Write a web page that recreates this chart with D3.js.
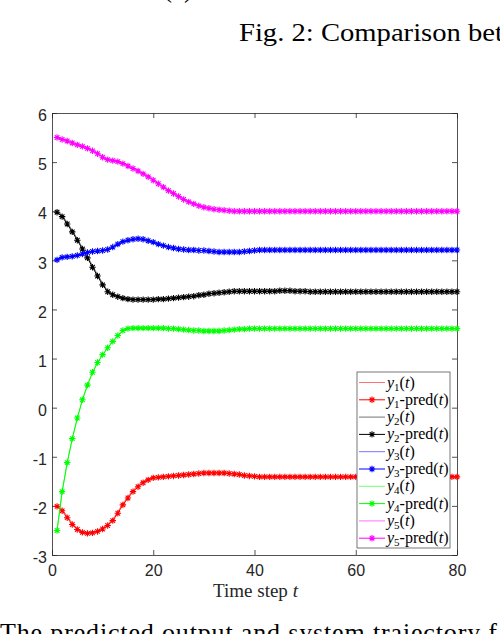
<!DOCTYPE html>
<html>
<head>
<meta charset="utf-8">
<script src="https://cdn.jsdelivr.net/npm/d3@7"></script>
<style>
  body { margin: 0; background: #fff; }
</style>
</head>
<body>
<div id="chart"></div>
<script>

// time steps 1..80
var steps = d3.range(1, 81);

// y1 (red)
var y1 = [-2.00,-2.07,-2.21,-2.35,-2.46,-2.52,-2.54,-2.53,-2.50,-2.45,
  -2.38,-2.27,-2.12,-1.95,-1.81,-1.68,-1.58,-1.50,-1.45,-1.42,
  -1.41,-1.40,-1.39,-1.38,-1.37,-1.36,-1.35,-1.34,-1.33,-1.32,
  -1.32,-1.32,-1.32,-1.32,-1.33,-1.34,-1.35,-1.37,-1.38,-1.39,
  -1.40,-1.40,-1.41,-1.41,-1.41,-1.41,-1.41,-1.41,-1.41,-1.41,
  -1.41,-1.41,-1.41,-1.41,-1.41,-1.41,-1.41,-1.41,-1.41,-1.41,
  -1.41,-1.41,-1.41,-1.41,-1.41,-1.41,-1.41,-1.41,-1.41,-1.41,
  -1.41,-1.41,-1.41,-1.41,-1.41,-1.41,-1.41,-1.41,-1.41,-1.41];
var y1pred = [-2.01,-2.10,-2.24,-2.38,-2.48,-2.54,-2.56,-2.55,-2.52,-2.47,
  -2.40,-2.30,-2.15,-1.98,-1.84,-1.71,-1.61,-1.53,-1.47,-1.43,
  -1.42,-1.41,-1.40,-1.39,-1.38,-1.37,-1.36,-1.35,-1.34,-1.33,
  -1.33,-1.33,-1.33,-1.33,-1.34,-1.35,-1.36,-1.38,-1.39,-1.40,
  -1.41,-1.41,-1.41,-1.41,-1.41,-1.41,-1.41,-1.41,-1.41,-1.41,
  -1.41,-1.41,-1.41,-1.41,-1.41,-1.41,-1.41,-1.41,-1.41,-1.41,
  -1.41,-1.41,-1.41,-1.41,-1.41,-1.41,-1.41,-1.41,-1.41,-1.41,
  -1.41,-1.41,-1.41,-1.41,-1.41,-1.41,-1.41,-1.41,-1.41,-1.41];

// y2 (black)
var y2 = [4.00,3.92,3.77,3.61,3.44,3.26,3.08,2.89,2.71,2.53,
  2.38,2.31,2.27,2.24,2.22,2.21,2.21,2.21,2.21,2.21,
  2.22,2.22,2.23,2.24,2.25,2.26,2.27,2.28,2.29,2.30,
  2.32,2.33,2.34,2.35,2.36,2.36,2.37,2.37,2.37,2.37,
  2.37,2.37,2.38,2.38,2.39,2.39,2.38,2.38,2.37,2.37,
  2.36,2.36,2.36,2.36,2.36,2.36,2.35,2.35,2.35,2.36,
  2.36,2.36,2.36,2.36,2.36,2.36,2.36,2.36,2.36,2.36,
  2.36,2.36,2.36,2.36,2.36,2.36,2.36,2.36,2.36,2.36];
var y2pred = [3.98,3.89,3.74,3.58,3.41,3.23,3.05,2.86,2.68,2.50,
  2.36,2.30,2.26,2.23,2.21,2.20,2.20,2.20,2.20,2.20,
  2.21,2.21,2.22,2.23,2.24,2.25,2.26,2.27,2.29,2.30,
  2.32,2.33,2.34,2.35,2.36,2.37,2.37,2.37,2.37,2.37,
  2.37,2.37,2.37,2.37,2.38,2.38,2.38,2.37,2.37,2.37,
  2.36,2.36,2.36,2.36,2.36,2.36,2.36,2.36,2.36,2.36,
  2.36,2.36,2.36,2.36,2.36,2.36,2.36,2.36,2.36,2.36,
  2.36,2.36,2.36,2.36,2.36,2.36,2.36,2.36,2.36,2.36];

// y3 (blue)
var y3 = [3.00,3.05,3.07,3.08,3.10,3.12,3.15,3.17,3.19,3.20,
  3.21,3.25,3.31,3.36,3.40,3.42,3.43,3.43,3.41,3.38,
  3.34,3.31,3.28,3.25,3.23,3.22,3.21,3.20,3.20,3.19,
  3.18,3.17,3.16,3.16,3.16,3.16,3.16,3.17,3.17,3.18,
  3.19,3.20,3.21,3.21,3.21,3.21,3.21,3.21,3.21,3.21,
  3.21,3.21,3.21,3.21,3.21,3.21,3.21,3.21,3.21,3.21,
  3.21,3.21,3.21,3.21,3.21,3.21,3.21,3.21,3.21,3.21,
  3.21,3.21,3.21,3.21,3.21,3.21,3.21,3.21,3.21,3.21];
var y3pred = [3.01,3.06,3.07,3.08,3.10,3.13,3.16,3.18,3.19,3.20,
  3.22,3.27,3.33,3.38,3.41,3.43,3.44,3.43,3.40,3.37,
  3.33,3.30,3.27,3.25,3.23,3.22,3.21,3.21,3.20,3.20,
  3.19,3.18,3.17,3.17,3.17,3.17,3.17,3.18,3.19,3.20,
  3.21,3.21,3.21,3.21,3.21,3.21,3.21,3.21,3.21,3.21,
  3.21,3.21,3.21,3.21,3.21,3.21,3.21,3.21,3.21,3.21,
  3.21,3.21,3.21,3.21,3.21,3.21,3.21,3.21,3.21,3.21,
  3.21,3.21,3.21,3.21,3.21,3.21,3.21,3.21,3.21,3.21];

// y4 (green)
var y4 = [-2.50,-1.72,-1.13,-0.64,-0.22,0.15,0.45,0.71,0.91,1.07,
  1.21,1.34,1.46,1.56,1.61,1.62,1.63,1.63,1.63,1.62,
  1.62,1.62,1.62,1.61,1.60,1.59,1.58,1.57,1.56,1.55,
  1.55,1.55,1.55,1.56,1.57,1.58,1.59,1.60,1.60,1.61,
  1.61,1.61,1.61,1.61,1.61,1.61,1.61,1.61,1.61,1.61,
  1.61,1.61,1.61,1.61,1.61,1.61,1.61,1.61,1.61,1.61,
  1.61,1.61,1.61,1.61,1.61,1.61,1.61,1.61,1.61,1.61,
  1.61,1.61,1.61,1.61,1.61,1.61,1.61,1.61,1.61,1.61];
var y4pred = [-2.50,-1.71,-1.12,-0.63,-0.21,0.16,0.46,0.72,0.92,1.08,
  1.22,1.35,1.47,1.57,1.61,1.62,1.62,1.62,1.62,1.62,
  1.62,1.62,1.61,1.61,1.60,1.59,1.58,1.57,1.57,1.56,
  1.56,1.56,1.56,1.57,1.58,1.59,1.60,1.60,1.61,1.61,
  1.61,1.61,1.61,1.61,1.61,1.61,1.61,1.61,1.61,1.61,
  1.61,1.61,1.61,1.61,1.61,1.61,1.61,1.61,1.61,1.61,
  1.61,1.61,1.61,1.61,1.61,1.61,1.61,1.61,1.61,1.61,
  1.61,1.61,1.61,1.61,1.61,1.61,1.61,1.61,1.61,1.61];

// y5 (magenta)
var y5 = [5.52,5.48,5.45,5.41,5.37,5.34,5.30,5.25,5.19,5.12,
  5.07,5.04,5.02,4.99,4.94,4.89,4.84,4.78,4.72,4.65,
  4.58,4.51,4.44,4.38,4.32,4.26,4.21,4.16,4.12,4.09,
  4.07,4.05,4.03,4.02,4.01,4.01,4.01,4.01,4.01,4.01,
  4.01,4.01,4.01,4.01,4.01,4.01,4.01,4.01,4.01,4.01,
  4.01,4.01,4.01,4.01,4.01,4.01,4.01,4.01,4.01,4.01,
  4.01,4.01,4.01,4.01,4.01,4.01,4.01,4.01,4.01,4.01,
  4.01,4.01,4.01,4.01,4.01,4.01,4.01,4.01,4.01,4.01];
var y5pred = [5.50,5.46,5.43,5.39,5.35,5.32,5.28,5.23,5.17,5.10,
  5.05,5.03,5.01,4.97,4.92,4.87,4.82,4.76,4.70,4.63,
  4.56,4.49,4.42,4.36,4.30,4.24,4.19,4.15,4.11,4.08,
  4.06,4.04,4.03,4.02,4.01,4.00,4.00,4.00,4.00,4.00,
  4.00,4.00,4.00,4.00,4.00,4.00,4.00,4.00,4.00,4.00,
  4.00,4.00,4.00,4.00,4.00,4.00,4.00,4.00,4.00,4.00,
  4.00,4.00,4.00,4.00,4.00,4.00,4.00,4.00,4.00,4.00,
  4.00,4.00,4.00,4.00,4.00,4.00,4.00,4.00,4.00,4.00];

var xTicks = [0, 20, 40, 60, 80];
var yTicks = [-3, -2, -1, 0, 1, 2, 3, 4, 5, 6];

// series in drawing order
var series = [
  {name: "1", color: "#ff0000", actual: y1, pred: y1pred},
  {name: "2", color: "#000000", actual: y2, pred: y2pred},
  {name: "3", color: "#0000ff", actual: y3, pred: y3pred},
  {name: "4", color: "#00ff00", actual: y4, pred: y4pred},
  {name: "5", color: "#ff00ff", actual: y5, pred: y5pred}
];

var W = 500, H = 634;
var plot = {left: 52, right: 457, top: 113, bottom: 555};
var axisColor = "#262626";

var svg = d3.select("#chart")
  .append("svg")
    .attr("width", W)
    .attr("height", H)
    .style("display", "block");

// page text around the figure
svg.append("text")
  .attr("x", 163).attr("y", -3)
  .style("font-family", "Liberation Serif")
  .style("font-size", "27px")
  .text("(c)");

svg.append("text")
  .attr("x", 239).attr("y", 41)
  .attr("textLength", 264)
  .attr("lengthAdjust", "spacingAndGlyphs")
  .style("font-family", "Liberation Serif")
  .style("font-size", "26px")
  .text("Fig. 2: Comparison bet");

svg.append("text")
  .attr("x", 0).attr("y", 641)
  .attr("textLength", 497)
  .attr("lengthAdjust", "spacing")
  .style("font-family", "Liberation Serif")
  .style("font-size", "26px")
  .text("The predicted output and system trajectory f");

// scales
var x = d3.scaleLinear().domain([0, 80]).range([plot.left, plot.right]);
var y = d3.scaleLinear().domain([-3, 6]).range([plot.bottom, plot.top]);

// axes (ticks inside, box on)
function styleAxis(g) {
  g.selectAll("path, line").attr("stroke", axisColor).attr("stroke-width", 0.8);
  g.selectAll("text")
    .attr("fill", axisColor)
    .style("font-family", "Liberation Sans")
    .style("font-size", "16px");
}

svg.append("g")
  .attr("transform", "translate(0," + plot.bottom + ")")
  .call(d3.axisBottom(x).tickValues(xTicks).tickSize(-5).tickSizeOuter(0).tickPadding(10))
  .call(styleAxis);

svg.append("g")
  .attr("transform", "translate(0," + plot.top + ")")
  .call(d3.axisTop(x).tickValues(xTicks).tickSize(-5).tickSizeOuter(0).tickFormat(""))
  .call(styleAxis);

svg.append("g")
  .attr("transform", "translate(" + plot.left + ",0)")
  .call(d3.axisLeft(y).tickValues(yTicks).tickSize(-5).tickSizeOuter(0).tickPadding(5)
    .tickFormat(function(d) { return d < 0 ? "-" + Math.abs(d) : d; }))
  .call(styleAxis)
  .selectAll("text").attr("dy", "0.48em");

svg.append("g")
  .attr("transform", "translate(" + plot.right + ",0)")
  .call(d3.axisRight(y).tickValues(yTicks).tickSize(-5).tickSizeOuter(0).tickFormat(""))
  .call(styleAxis);

// x label
var xl = svg.append("text")
  .attr("x", (plot.left + plot.right) / 2 + 1)
  .attr("y", 597)
  .attr("text-anchor", "middle")
  .attr("fill", axisColor)
  .style("font-family", "Liberation Serif")
  .style("font-size", "19px");
xl.append("tspan").text("Time step ");
xl.append("tspan").style("font-style", "italic").text("t");

// lines
var marks = svg.append("g");

function lineFor(values) {
  return d3.line()
    .x(function(d) { return x(d); })
    .y(function(d, i) { return y(values[i]); })(steps);
}

// asterisk marker
var r = 3.2, dd = 2.3;
var star = "M" + (-r) + ",0L" + r + ",0M0," + (-r) + "L0," + r +
  "M" + (-dd) + "," + (-dd) + "L" + dd + "," + dd +
  "M" + (-dd) + "," + dd + "L" + dd + "," + (-dd);

series.forEach(function(s) {
  marks.append("path")
    .attr("d", lineFor(s.actual))
    .attr("fill", "none")
    .attr("stroke", s.color)
    .attr("stroke-opacity", 0.55)
    .attr("stroke-width", 1);

  marks.append("path")
    .attr("d", lineFor(s.pred))
    .attr("fill", "none")
    .attr("stroke", s.color)
    .attr("stroke-width", 1);

  marks.selectAll(null)
    .data(steps)
    .enter()
    .append("path")
      .attr("d", star)
      .attr("transform", function(d, i) { return "translate(" + x(d) + "," + y(s.pred[i]) + ")"; })
      .attr("fill", "none")
      .attr("stroke", s.color)
      .attr("stroke-width", 1.1);
});

// legend
var leg = {x: 357, y: 372, w: 93, h: 176, row: 17.3, first: 382.5};
svg.append("rect")
  .attr("x", leg.x).attr("y", leg.y)
  .attr("width", leg.w).attr("height", leg.h)
  .attr("fill", "#fff")
  .attr("stroke", "#555")
  .attr("stroke-width", 0.8);

var entries = [];
series.forEach(function(s) {
  entries.push({s: s, pred: false});
  entries.push({s: s, pred: true});
});

entries.forEach(function(e, i) {
  var cy = leg.first + i * leg.row;
  svg.append("line")
    .attr("x1", 359).attr("x2", 385)
    .attr("y1", cy).attr("y2", cy)
    .attr("stroke", e.s.color)
    .attr("stroke-opacity", e.pred ? 1 : 0.55)
    .attr("stroke-width", 1);
  if (e.pred) {
    svg.append("path")
      .attr("d", star)
      .attr("transform", "translate(372," + cy + ")")
      .attr("fill", "none")
      .attr("stroke", e.s.color)
      .attr("stroke-width", 1.1);
  }
  var t = svg.append("text")
    .attr("x", 387).attr("y", cy + 5)
    .attr("fill", "#000")
    .style("font-family", "Liberation Serif")
    .style("font-size", "16px");
  t.append("tspan").style("font-style", "italic").text("y");
  t.append("tspan").attr("dy", 3).style("font-size", "11px").text(e.s.name);
  t.append("tspan").attr("dy", -3).text(e.pred ? "-pred(" : "(");
  t.append("tspan").style("font-style", "italic").text("t");
  t.append("tspan").text(")");
});

</script>
</body>
</html>
